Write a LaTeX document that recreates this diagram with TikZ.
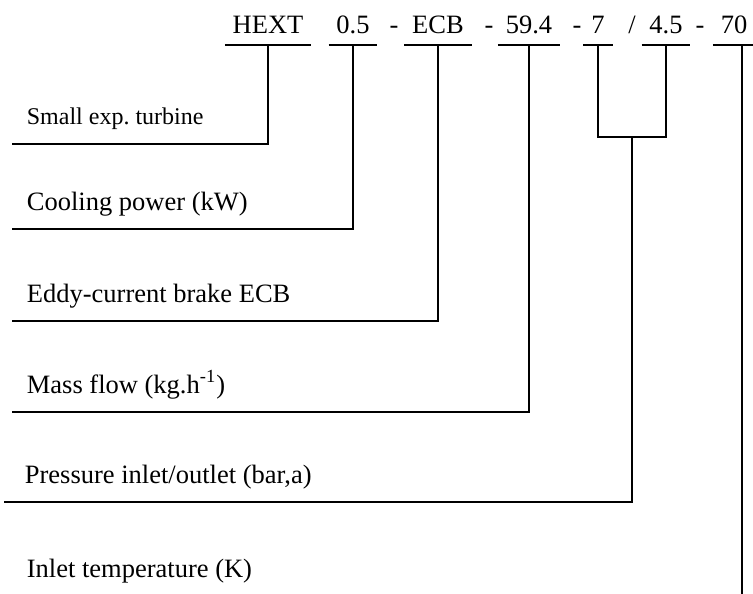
\documentclass[tikz,border=0pt]{standalone}
\usepackage{fontspec}
\setmainfont{Liberation Serif}
\usetikzlibrary{calc}
\begin{document}
\begin{tikzpicture}[x=0.5pt, y=-0.5pt, line width=0.9pt,
    code/.style={anchor=base, inner xsep=3.5pt, inner ysep=5pt, text depth=0pt,
        font=\fontsize{13.25}{16}\selectfont},
    sep/.style={anchor=base, inner sep=0pt, font=\fontsize{13.25}{16}\selectfont},
    lbl/.style={anchor=base west, inner sep=0pt, font=\fontsize{13.25}{16}\selectfont}]
    \useasboundingbox (0,0) rectangle (753,593);

    % Designation code along the top
    \node[code] (hext) at (268,34) {HEXT};
    \node[code] (cool) at (353,34) {0.5};
    \node[sep]  (d1)   at (394,34) {-};
    \node[code] (ecb)  at (438,34) {ECB};
    \node[sep]  (d2)   at (489,34) {-};
    \node[code] (flow) at (529,34) {59.4};
    \node[sep]  (d3)   at (577,34) {-};
    \node[code] (pin)  at (598,34) {7};
    \node[sep]  (sl)   at (632,34) {/};
    \node[code] (pout) at (666,34) {4.5};
    \node[sep]  (d4)   at (700,34) {-};
    \node[code] (temp) at (734,34) {70};

    % Underlines below each field
    \foreach \f in {hext,cool,ecb,flow,pin,pout,temp}
        \draw (\f.south west) -- (\f.south east);

    % Meaning of each field
    \node[lbl, font=\fontsize{12}{14}\selectfont] (lturb) at (26,125) {Small exp.\ turbine};
    \node[lbl] (lcool)  at (26,210) {Cooling power (kW)};
    \node[lbl] (lecb)   at (26,302) {Eddy-current brake ECB};
    \node[lbl] (lflow)  at (26,393) {Mass flow (kg.h\textsuperscript{-1})};
    \node[lbl] (lpress) at (24,483) {Pressure inlet/outlet (bar,a)};
    \node[lbl] (ltemp)  at (26,577) {Inlet temperature (K)};

    % Leaders from the fields down to the labels
    \draw (hext.south) |- ([shift={(-14,19)}]lturb.base west);
    \draw (cool.south) |- ([shift={(-14,19)}]lcool.base west);
    \draw (ecb.south)  |- ([shift={(-14,19)}]lecb.base west);
    \draw (flow.south) |- ([shift={(-14,19)}]lflow.base west);

    % Bracket joining inlet and outlet pressure
    \draw (pin.south) -- ++(0,92) -| (pout.south);
    \coordinate (brk) at ($(pin.south)!0.5!(pout.south) + (0,92)$);
    \draw (brk) |- ([shift={(-20,19)}]lpress.base west);

    \draw ([xshift=4pt]temp.south) -- ++(0,549);
\end{tikzpicture}
\end{document}
